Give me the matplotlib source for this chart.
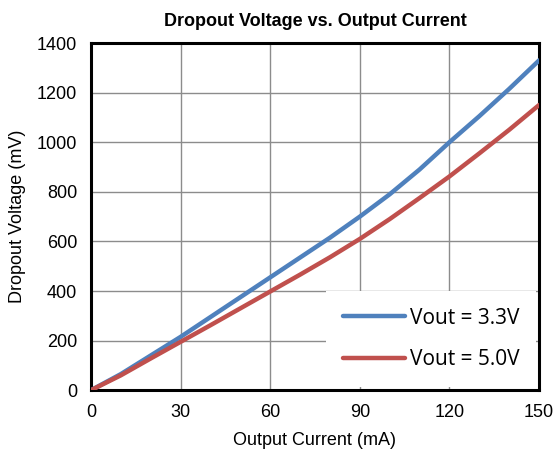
import matplotlib
matplotlib.use("Agg")
import matplotlib.pyplot as plt

# Dropout voltage vs output current
current_ma = [0, 10, 20, 30, 40, 50, 60, 70, 80, 90, 100, 110, 120, 130, 140, 150]
vout_33 = [0, 65, 140, 215, 295, 375, 455, 535, 615, 700, 790, 890, 1000, 1105, 1215, 1330]
vout_50 = [0, 60, 128, 195, 262, 330, 398, 466, 536, 610, 690, 775, 862, 955, 1050, 1150]
x_ticks = [0, 30, 60, 90, 120, 150]
y_ticks = [0, 200, 400, 600, 800, 1000, 1200, 1400]

plt.rcParams["font.family"] = ["Liberation Sans", "DejaVu Sans"]

fig = plt.figure(figsize=(5.58, 4.58), dpi=100)
ax = fig.add_axes([0.163, 0.148, 0.803, 0.758])

ax.plot(current_ma, vout_33, color="#4F81BD", lw=3.2, label="Vout = 3.3V",
        solid_capstyle="round", zorder=3)
ax.plot(current_ma, vout_50, color="#C0504D", lw=3.2, label="Vout = 5.0V",
        solid_capstyle="round", zorder=3)

ax.set_xlim(0, 150)
ax.set_ylim(0, 1400)
ax.set_xticks(x_ticks)
ax.set_yticks(y_ticks)
ax.grid(True, color="#8c8c8c", lw=1)
ax.tick_params(length=0, labelsize=13, pad=10)
for s in ax.spines.values():
    s.set_linewidth(2.2)
    s.set_color("black")

ax.set_xlabel("Output Current (mA)", fontsize=13, labelpad=8)
ax.set_ylabel("Dropout Voltage (mV)", fontsize=13, labelpad=8)
ax.set_title("Dropout Voltage vs. Output Current", fontsize=13, fontweight="bold", pad=12)

leg = ax.legend(loc="lower right", frameon=True, fancybox=False, edgecolor="none",
                framealpha=1, prop={"family": "Open Sans", "size": 15},
                handlelength=3.0, handletextpad=0.2, labelspacing=1.0,
                borderpad=0.8, borderaxespad=0.15)

fig.savefig("out.png", dpi=100)
